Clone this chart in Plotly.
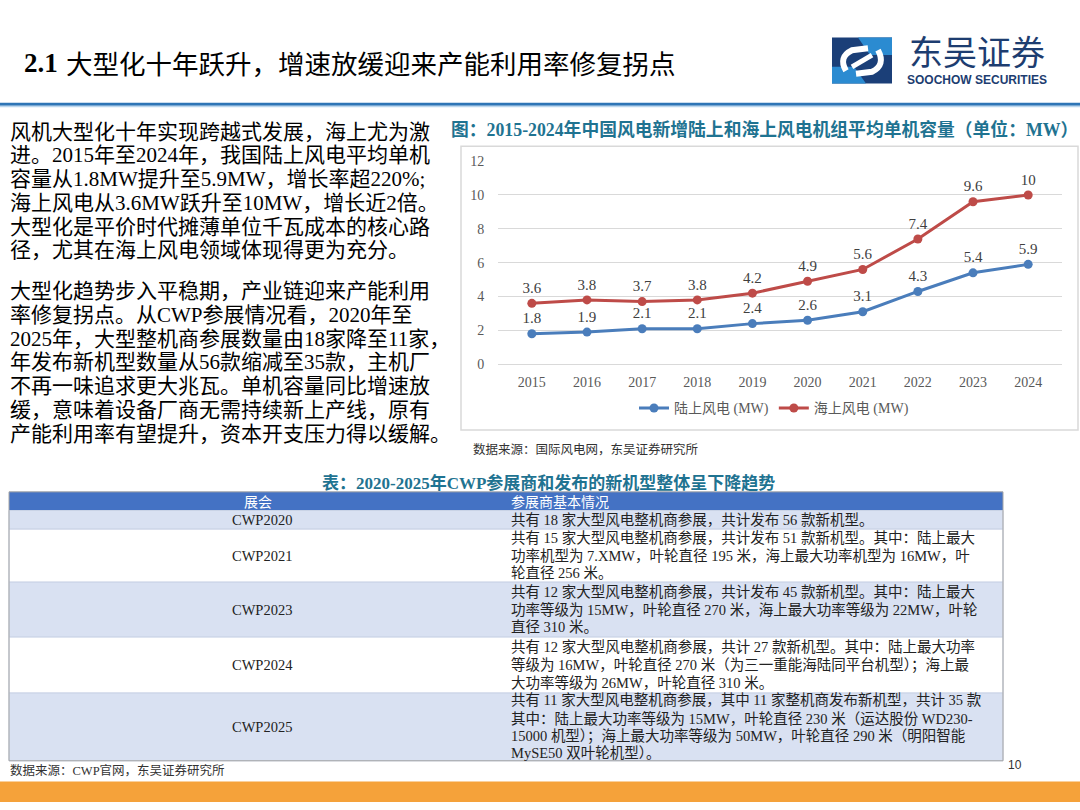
import plotly.graph_objects as go

# ---------------- data ----------------
years = ["2015", "2016", "2017", "2018", "2019", "2020", "2021", "2022", "2023", "2024"]
onshore_mw = [1.8, 1.9, 2.1, 2.1, 2.4, 2.6, 3.1, 4.3, 5.4, 5.9]
offshore_mw = [3.6, 3.8, 3.7, 3.8, 4.2, 4.9, 5.6, 7.4, 9.6, 10]
series_names = ["陆上风电 (MW)", "海上风电 (MW)"]
y_tick_values = [0, 2, 4, 6, 8, 10, 12]

page_title_num = "2.1"
page_title = "大型化十年跃升，增速放缓迎来产能利用率修复拐点"
chart_title = "图：2015-2024年中国风电新增陆上和海上风电机组平均单机容量（单位：MW）"
chart_source = "数据来源：国际风电网，东吴证券研究所"
table_title = "表：2020-2025年CWP参展商和发布的新机型整体呈下降趋势"
table_source = "数据来源：CWP官网，东吴证券研究所"

para1_lines = [
    "风机大型化十年实现跨越式发展，海上尤为激",
    "进。2015年至2024年，我国陆上风电平均单机",
    "容量从1.8MW提升至5.9MW，增长率超220%;",
    "海上风电从3.6MW跃升至10MW，增长近2倍。",
    "大型化是平价时代摊薄单位千瓦成本的核心路",
    "径，尤其在海上风电领域体现得更为充分。",
]
para2_lines = [
    "大型化趋势步入平稳期，产业链迎来产能利用",
    "率修复拐点。从CWP参展情况看，2020年至",
    "2025年，大型整机商参展数量由18家降至11家，",
    "年发布新机型数量从56款缩减至35款，主机厂",
    "不再一味追求更大兆瓦。单机容量同比增速放",
    "缓，意味着设备厂商无需持续新上产线，原有",
    "产能利用率有望提升，资本开支压力得以缓解。",
]

table_header = ["展会", "参展商基本情况"]
expo_names = ["CWP2020", "CWP2021", "CWP2023", "CWP2024", "CWP2025"]
expo_details = [
    ["共有 18 家大型风电整机商参展，共计发布 56 款新机型。"],
    ["共有 15 家大型风电整机商参展，共计发布 51 款新机型。其中：陆上最大",
     "功率机型为 7.XMW，叶轮直径 195 米，海上最大功率机型为 16MW，叶",
     "轮直径 256 米。"],
    ["共有 12 家大型风电整机商参展，共计发布 45 款新机型。其中：陆上最大",
     "功率等级为 15MW，叶轮直径 270 米，海上最大功率等级为 22MW，叶轮",
     "直径 310 米。"],
    ["共有 12 家大型风电整机商参展，共计 27 款新机型。其中：陆上最大功率",
     "等级为 16MW，叶轮直径 270 米（为三一重能海陆同平台机型）；海上最",
     "大功率等级为 26MW，叶轮直径 310 米。"],
    ["共有 11 家大型风电整机商参展，其中 11 家整机商发布新机型，共计 35 款",
     "其中：陆上最大功率等级为 15MW，叶轮直径 230 米（运达股份 WD230-",
     "15000 机型）；海上最大功率等级为 50MW，叶轮直径 290 米（明阳智能",
     "MySE50 双叶轮机型）。"],
]

# ---------------- layout helpers ----------------
W, H = 1080, 810
def px(x):
    return x / W
def py(y):
    return 1 - y / H

SERIF = "Liberation Serif, Noto Sans CJK SC, serif"
CJK = "Noto Sans CJK SC, sans-serif"
TEAL = "#1f7391"
BLUE = "#4a7dbb"
RED = "#be4b48"

def fmt(v):
    return ("%g" % v)

fig = go.Figure()
fig.add_trace(go.Scatter(
    x=years, y=onshore_mw, name=series_names[0], mode="lines+markers+text",
    text=[fmt(v) for v in onshore_mw], textposition="top center",
    line=dict(color=BLUE, width=3), marker=dict(color=BLUE, size=9),
    textfont=dict(family=SERIF, size=15, color="#404040"), cliponaxis=False,
))
fig.add_trace(go.Scatter(
    x=years, y=offshore_mw, name=series_names[1], mode="lines+markers+text",
    text=[fmt(v) for v in offshore_mw], textposition="top center",
    line=dict(color=RED, width=3), marker=dict(color=RED, size=9),
    textfont=dict(family=SERIF, size=15, color="#404040"), cliponaxis=False,
))

shapes = []
annotations = []

def text(x, y, s, size, color="#000", family=SERIF, xanchor="left", bold=False):
    if bold:
        s = "<b>" + s + "</b>"
    annotations.append(dict(x=px(x), y=py(y), xref="paper", yref="paper", text=s,
                             showarrow=False, xanchor=xanchor, yanchor="middle",
                             font=dict(family=family, size=size, color=color)))

def rect(x0, y0, x1, y1, fill, line_color=None, lw=0):
    shapes.append(dict(type="rect", xref="paper", yref="paper",
                       x0=px(x0), x1=px(x1), y0=py(y1), y1=py(y0),
                       fillcolor=fill, line=dict(color=line_color or fill, width=lw),
                       layer="below"))

# header
text(22, 57, "<b>" + page_title_num + "</b>", 27, "#000", SERIF)
text(64, 57, page_title, 26.5, "#000", CJK)
shapes.append(dict(type="line", xref="paper", yref="paper", x0=0, x1=1,
                   y0=py(99), y1=py(99), line=dict(color="#2e75b6", width=3)))
shapes.append(dict(type="line", xref="paper", yref="paper", x0=0, x1=1,
                   y0=py(101.5), y1=py(101.5), line=dict(color="#bdd7ee", width=1.5)))

# logo
rect(832, 31, 892, 78, "#1b3f78")
def pth(pts, close=True):
    s = "M " + " L ".join("%f,%f" % (px(a), py(b)) for a, b in pts)
    return s + (" Z" if close else "")
shapes.append(dict(type="path", xref="paper", yref="paper",
                   path=pth([(858, 31), (892, 31), (892, 49), (870, 49)]),
                   fillcolor="#2b8bd1", line=dict(width=0)))
shapes.append(dict(type="path", xref="paper", yref="paper",
                   path=pth([(832, 61), (854, 61), (866, 78), (832, 78)]),
                   fillcolor="#2b8bd1", line=dict(width=0)))
shapes.append(dict(type="path", xref="paper", yref="paper",
                   path="M %f,%f Q %f,%f %f,%f L %f,%f" % (
                       px(846), py(65), px(838), py(51), px(852), py(44), px(868), py(42)),
                   line=dict(color="white", width=6)))
shapes.append(dict(type="path", xref="paper", yref="paper",
                   path="M %f,%f Q %f,%f %f,%f L %f,%f" % (
                       px(878), py(44), px(886), py(59), px(872), py(66), px(856), py(68)),
                   line=dict(color="white", width=6)))
shapes.append(dict(type="line", xref="paper", yref="paper",
                   x0=px(852), y0=py(61), x1=px(872), y1=py(49),
                   line=dict(color="white", width=5)))
text(977, 44, "东吴证券", 34, "#1d3d70", CJK, xanchor="center")
text(977, 74, "<b>SOOCHOW SECURITIES</b>", 12, "#1d3d70", "Liberation Sans, Arial", xanchor="center")

# left paragraphs
for i, ln in enumerate(para1_lines):
    text(8, 127 + i * 24.2, ln, 21, "#000", SERIF)
for i, ln in enumerate(para2_lines):
    text(8, 289 + i * 24.4, ln, 21, "#000", SERIF)

# chart title, box, source
text(449, 125, chart_title, 17.8, TEAL, SERIF, bold=True)
shapes.append(dict(type="rect", xref="paper", yref="paper",
                   x0=px(461), x1=px(1078), y0=py(431), y1=py(142),
                   fillcolor="rgba(0,0,0,0)", line=dict(color="#d9d9d9", width=1.5),
                   layer="below"))
text(471, 451, chart_source, 12.5, "#333", SERIF)

# table
text(548, 485, table_title, 17, TEAL, SERIF, xanchor="center", bold=True)
tx0, tx1 = 9, 1003
col1_center, col2_left = 262, 509
header_top, header_bot = 494, 513
rect(tx0, header_top, tx1, header_bot, "#4472c4")
text(258, 503.5, table_header[0], 14, "white", CJK, xanchor="center")
text(col2_left, 503.5, table_header[1], 14, "white", CJK)
row_heights = [19, 54, 56, 57, 69]
line_step = 18
top = header_bot
for r, (name, lines) in enumerate(zip(expo_names, expo_details)):
    bot = top + row_heights[r]
    fill = "#d9e1f2" if r % 2 == 0 else "#ffffff"
    rect(tx0, top, tx1, bot, fill, "#c9d3e6", 1)
    mid = (top + bot) / 2
    text(col1_center, mid, name, 14.5, "#222", SERIF, xanchor="center")
    n = len(lines)
    for i, ln in enumerate(lines):
        text(col2_left, mid + (i - (n - 1) / 2) * line_step, ln, 14.5, "#222", SERIF)
    top = bot
shapes.append(dict(type="rect", xref="paper", yref="paper",
                   x0=px(tx0), x1=px(tx1), y0=py(top), y1=py(header_top),
                   fillcolor="rgba(0,0,0,0)", line=dict(color="#a6a6a6", width=1)))
text(8, 778, table_source, 12.5, "#333", SERIF)
text(1015, 772, "10", 12, "#333", "Liberation Sans, Arial", xanchor="center")

# bottom band
rect(0, 789, 1080, 810, "#f5a23a")

fig.update_layout(
    width=W, height=H, margin=dict(l=0, r=0, t=0, b=0),
    paper_bgcolor="white", plot_bgcolor="white",
    shapes=shapes, annotations=annotations,
    showlegend=True,
    legend=dict(orientation="h", x=px(774), y=py(409), xanchor="center", yanchor="middle",
                font=dict(family=SERIF, size=14, color="#595959"),
                bgcolor="rgba(0,0,0,0)", itemwidth=30),
    xaxis=dict(domain=[px(498), px(1062)], type="category", showgrid=False,
               showline=False, zeroline=False, ticks="outside", ticklen=5,
               tickcolor="rgba(0,0,0,0)",
               tickfont=dict(family=SERIF, size=14, color="#595959")),
    yaxis=dict(domain=[py(364), py(157)], range=[0, 12], tickvals=y_tick_values,
               showgrid=True, gridcolor="#d9d9d9", gridwidth=1,
               zeroline=True, zerolinecolor="#d9d9d9", zerolinewidth=1,
               showline=False, ticks="outside", ticklen=10,
               tickcolor="rgba(0,0,0,0)",
               tickfont=dict(family=SERIF, size=14, color="#595959")),
)

fig.write_html("out.html", config={"displayModeBar": False},
               post_script="document.body.style.margin='0';document.body.style.overflow='hidden';")
